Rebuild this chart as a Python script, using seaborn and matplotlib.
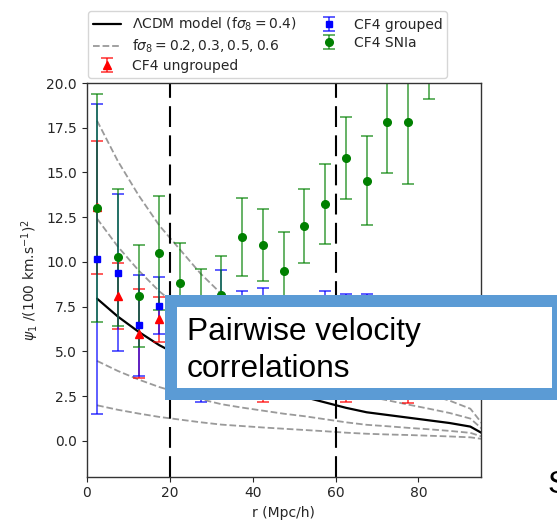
import numpy as np
import pandas as pd
import matplotlib
matplotlib.use("Agg")
import matplotlib.pyplot as plt
from matplotlib.patches import Rectangle
import seaborn as sns

# ---------------- data ----------------
r_model = [2.5, 7.5, 12.5, 17.5, 22.5, 27.5, 32.5, 37.5, 42.5, 47.5,
           52.5, 57.5, 62.5, 67.5, 72.5, 77.5, 82.5, 87.5, 92.5, 97.5]
lcdm_04 = [7.95, 6.95, 6.10, 5.35, 4.75, 4.15, 3.65, 3.30, 3.00, 2.70,
           2.45, 2.15, 1.85, 1.60, 1.45, 1.30, 1.15, 1.00, 0.80, 0.15]
fs8_02 = [1.99, 1.74, 1.53, 1.34, 1.19, 1.04, 0.91, 0.83, 0.75, 0.68,
          0.61, 0.54, 0.46, 0.40, 0.36, 0.33, 0.29, 0.25, 0.20, 0.04]
fs8_03 = [4.47, 3.91, 3.43, 3.01, 2.67, 2.33, 2.05, 1.86, 1.69, 1.52,
          1.38, 1.21, 1.04, 0.90, 0.82, 0.73, 0.65, 0.56, 0.45, 0.08]
fs8_05 = [12.42, 10.86, 9.53, 8.36, 7.42, 6.48, 5.70, 5.16, 4.69, 4.22,
          3.83, 3.36, 2.89, 2.50, 2.27, 2.03, 1.80, 1.56, 1.25, 0.23]
fs8_06 = [17.89, 15.64, 13.73, 12.04, 10.69, 9.34, 8.21, 7.43, 6.75, 6.08,
          5.51, 4.84, 4.16, 3.60, 3.26, 2.93, 2.59, 2.25, 1.80, 0.34]

r_ungrouped = [2.5, 7.5, 12.5, 17.5, 22.5, 27.5, 32.5, 37.5, 42.5, 47.5,
               52.5, 57.5, 62.5, 67.5, 72.5, 77.5]
psi_ungrouped = [13.05, 8.1, 6.0, 6.8, 5.6, 5.2, 5.0, 4.8, 4.6, 4.7,
                 4.6, 4.5, 4.4, 4.6, 4.5, 4.3]
err_ungrouped = [3.7, 1.85, 2.5, 1.25, 2.0, 2.2, 2.3, 2.3, 2.45, 2.2,
                 2.1, 2.0, 2.25, 2.0, 2.0, 2.2]

r_grouped = [2.5, 7.5, 12.5, 17.5, 22.5, 27.5, 32.5, 37.5, 42.5, 47.5,
             52.5, 57.5, 62.5, 67.5]
psi_grouped = [10.15, 9.4, 6.45, 7.55, 5.5, 5.0, 8.1, 5.6, 5.8, 5.2,
               5.2, 5.6, 5.5, 5.5]
err_grouped = [8.67, 4.4, 2.83, 1.6, 2.0, 2.8, 1.45, 2.8, 2.75, 2.4,
               2.4, 2.75, 2.7, 2.7]

r_snia = [2.5, 7.5, 12.5, 17.5, 22.5, 27.5, 32.5, 37.5, 42.5, 47.5,
          52.5, 57.5, 62.5, 67.5, 72.5, 77.5, 82.5]
psi_snia = [13.0, 10.25, 8.1, 10.5, 8.8, 7.2, 8.15, 11.4, 10.95, 9.5,
            12.0, 13.25, 15.8, 14.55, 17.8, 17.8, 22.3]
err_snia = [6.37, 3.85, 2.85, 3.2, 2.25, 2.4, 2.2, 2.2, 2.0, 2.15,
            2.05, 2.25, 2.3, 2.5, 2.85, 3.45, 3.2]

scale_cuts = [20, 60]
x_ticks = [0, 20, 40, 60, 80]
y_ticks = [0.0, 2.5, 5.0, 7.5, 10.0, 12.5, 15.0, 17.5, 20.0]

# ---------------- figure ----------------
W, H = 557, 524
sns.set_style("ticks")
plt.rcParams["font.family"] = ["DejaVu Sans"]
plt.rcParams["font.size"] = 10

fig = plt.figure(figsize=(W / 100, H / 100), dpi=100)
ax = fig.add_axes([86.7 / W, 1 - 476.7 / H, (480.7 - 86.7) / W, (476.7 - 83) / H])

df_model = pd.DataFrame({"r": r_model, "lcdm": lcdm_04, "f02": fs8_02,
                         "f03": fs8_03, "f05": fs8_05, "f06": fs8_06})

sns.lineplot(data=df_model, x="r", y="lcdm", ax=ax, color="black", lw=1.6,
             label=r"$\Lambda$CDM model (f$\sigma_8 = 0.4$)", errorbar=None)
for i, col in enumerate(["f02", "f03", "f05", "f06"]):
    sns.lineplot(data=df_model, x="r", y=col, ax=ax, color="#9a9a9a", lw=1.3,
                 linestyle="--",
                 label=r"f$\sigma_8 = 0.2, 0.3, 0.5, 0.6$" if i == 0 else "_nolegend_",
                 errorbar=None)

for xc in scale_cuts:
    ax.axvline(xc, color="black", lw=1.5, linestyle=(0, (10, 4)))

ax.errorbar(r_ungrouped, psi_ungrouped, yerr=err_ungrouped, fmt="^",
            color="red", ecolor=(1, 0, 0, 0.75), ms=5.5, capsize=4,
            elinewidth=1.2, capthick=1.2, label="CF4 ungrouped")
ax.errorbar(r_grouped, psi_grouped, yerr=err_grouped, fmt="s",
            color="blue", ecolor=(0, 0, 1, 0.8), ms=5, capsize=4,
            elinewidth=1.1, capthick=1.1, label="CF4 grouped")
ax.errorbar(r_snia, psi_snia, yerr=err_snia, fmt="o",
            color="green", ecolor=(0, 0.5, 0, 0.7), ms=5.5, capsize=4,
            elinewidth=1.2, capthick=1.2, label="CF4 SNIa")

ax.set_xlim(0, 95)
ax.set_ylim(-2.0, 20.0)
ax.set_xticks(x_ticks)
ax.set_yticks(y_ticks)
ax.set_yticklabels([f"{v:.1f}" for v in y_ticks])
ax.set_xlabel("r (Mpc/h)")
ax.set_ylabel(r"$\psi_1$ /(100 km.s$^{-1}$)$^2$")
for s in ax.spines.values():
    s.set_color("#333333")
    s.set_linewidth(1.0)

if ax.get_legend() is not None:
    ax.get_legend().remove()
handles, labels = ax.get_legend_handles_labels()
order = [labels.index(l) for l in [r"$\Lambda$CDM model (f$\sigma_8 = 0.4$)",
                                   r"f$\sigma_8 = 0.2, 0.3, 0.5, 0.6$",
                                   "CF4 ungrouped", "CF4 grouped", "CF4 SNIa"]]
fig.legend([handles[i] for i in order], [labels[i] for i in order], ncol=2,
           loc="upper left", bbox_to_anchor=(88 / W, 1 - 11 / H),
           frameon=True, fontsize=10, borderaxespad=0,
           columnspacing=1.3, labelspacing=0.3, borderpad=0.35)

# ---------------- slide overlay ----------------
def fx(px):
    return px / W

def fy(py):
    return 1 - py / H

fig.add_artist(Rectangle((fx(165), fy(400)), fx(600) - fx(165), fy(295) - fy(400),
                         transform=fig.transFigure, facecolor="#5B9BD5",
                         edgecolor="none", zorder=10))
fig.add_artist(Rectangle((fx(176.7), fy(388.3)), fx(551.7) - fx(176.7),
                         fy(306.7) - fy(388.3), transform=fig.transFigure,
                         facecolor="white", edgecolor="none", zorder=11))
fig.text(fx(187), fy(340), "Pairwise velocity", fontsize=22.8,
         family=["Liberation Sans", "DejaVu Sans"], va="baseline", ha="left",
         color="black", zorder=12)
fig.text(fx(187), fy(376.7), "correlations", fontsize=22.8,
         family=["Liberation Sans", "DejaVu Sans"], va="baseline", ha="left",
         color="black", zorder=12)
fig.text(fx(548), fy(493), "S", fontsize=22.8,
         family=["Liberation Sans", "DejaVu Sans"], va="baseline", ha="left",
         color="black", zorder=12)

fig.savefig("out.png", dpi=100)
